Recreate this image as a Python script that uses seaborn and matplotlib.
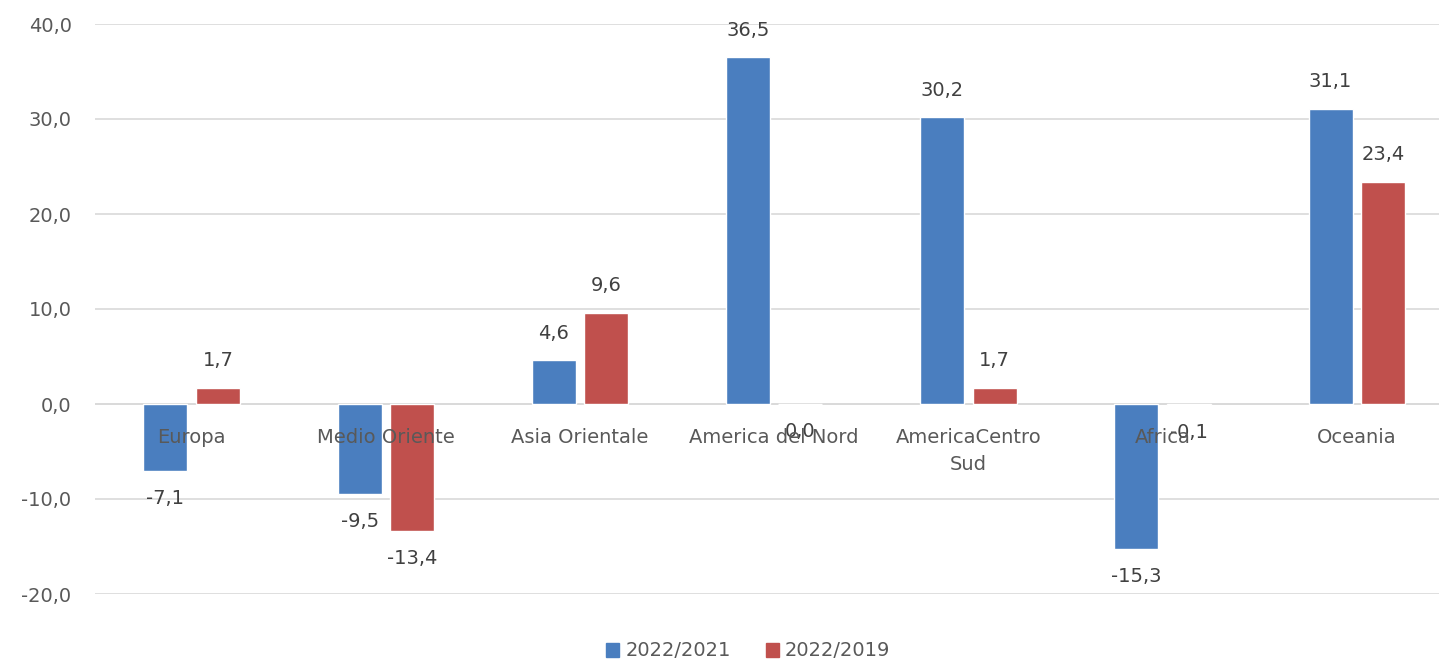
# Variazione % per area geografica: 2022/2021 e 2022/2019
import matplotlib.pyplot as plt
import pandas as pd
import seaborn as sns

categories = ["Europa", "Medio Oriente", "Asia Orientale", "America del Nord",
              "AmericaCentro\nSud", "Africa", "Oceania"]
series_names = ["2022/2021", "2022/2019"]
var_2022_2021 = [-7.1, -9.5, 4.6, 36.5, 30.2, -15.3, 31.1]
var_2022_2019 = [1.7, -13.4, 9.6, 0.0, 1.7, -0.1, 23.4]
y_ticks = [-20, -10, 0, 10, 20, 30, 40]

colors = ["#4a7ebf", "#c0504d"]
text_color = "#595959"
fs = 14

df = pd.DataFrame({
    "area": categories * 2,
    "serie": [series_names[0]] * len(categories) + [series_names[1]] * len(categories),
    "valore": var_2022_2021 + var_2022_2019,
})

sns.set_theme(style="white")
plt.rcParams["font.family"] = ["DejaVu Sans"]

fig = plt.figure(figsize=(14.39, 6.63), dpi=100)
ax = fig.add_axes([94.5 / 1439, 69 / 663, 7 * 194.2 / 1439, 570 / 663])

sns.barplot(data=df, x="area", y="valore", hue="serie", order=categories,
            hue_order=series_names, palette=colors, width=0.54, gap=0.16,
            saturation=1, errorbar=None, ax=ax, legend=False)

ax.set_ylim(-20, 40)
ax.set_xlim(-0.5, len(categories) - 0.5)
ax.set_yticks(y_ticks)
ax.set_yticklabels([f"{t:.1f}".replace(".", ",") for t in y_ticks],
                   fontsize=fs, color=text_color)
ax.tick_params(axis="y", length=0, pad=16.5)
ax.set_xticks([])
ax.set_xlabel("")
ax.set_ylabel("")
ax.grid(axis="y", color="#d9d9d9", linewidth=1.2)
ax.set_axisbelow(True)
for s in ax.spines.values():
    s.set_visible(False)
ax.axhline(0, color="#d9d9d9", linewidth=1.2, zorder=0.5)

# etichette dei valori
values = var_2022_2021 + var_2022_2019
for patch, v in zip(ax.patches, values):
    x = patch.get_x() + patch.get_width() / 2
    off = 19.5 if v > 0 else -19.5
    ax.annotate(f"{v:.1f}".replace(".", ","), (x, v), xytext=(0, off),
                textcoords="offset points", ha="center", va="center",
                fontsize=fs, color="#404040")

# etichette delle categorie accanto all'asse dello zero
for i, c in enumerate(categories):
    ax.text(i, -2.5, c, ha="center", va="top", fontsize=fs,
            color=text_color, linespacing=1.55)

handles = [plt.Rectangle((0, 0), 1, 1, color=col) for col in colors]
fig.legend(handles, series_names, loc="center", ncol=2,
           bbox_to_anchor=(748 / 1439, 1 - 651 / 663), frameon=False,
           fontsize=fs, handlelength=0.7, handleheight=0.7,
           handletextpad=0.3, columnspacing=1.8, labelcolor=text_color)

fig.savefig("out.png", dpi=100)
